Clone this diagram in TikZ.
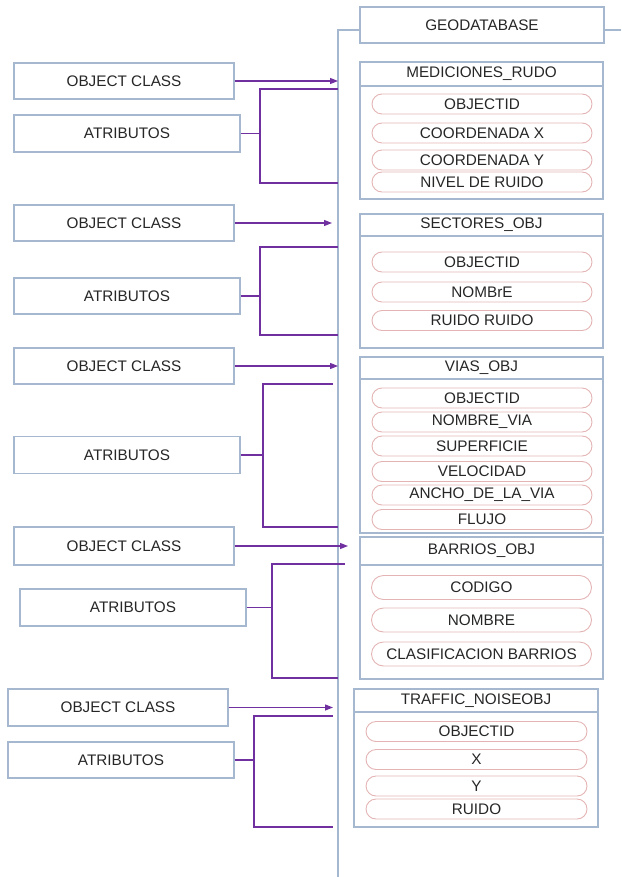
\documentclass[tikz,border=0pt]{standalone}
\usepackage{fontspec}
\setmainfont{Liberation Sans}
\usetikzlibrary{arrows.meta}
\definecolor{edge}{RGB}{166,184,207}
\definecolor{pillc}{RGB}{228,180,180}
\definecolor{link}{RGB}{112,48,160}
\definecolor{ink}{RGB}{38,38,38}

\begin{document}
\begin{tikzpicture}[x=1pt,y=-1pt,
  every node/.style={font=\fontsize{15.3}{17}\selectfont, text=ink, inner sep=0pt},
  lbox/.style={draw=edge, line width=1.1pt, rectangle, minimum width=220pt, minimum height=36pt},
  abox/.style={lbox, minimum width=226pt},
  frame/.style={draw=edge, line width=1.1pt, rectangle, minimum width=243pt},
  hdr/.style={draw=edge, line width=1.1pt, rectangle, minimum width=243pt},
  pill/.style={draw=pillc, line width=0.9pt, rounded corners=10pt,
               minimum width=220pt, minimum height=20pt},
  conn/.style={draw=link, line width=1.3pt},
  arr/.style={conn, -{Triangle[length=8pt,width=6pt]}},
  spine/.style={draw=edge, line width=1.3pt}]

\useasboundingbox (0,0) rectangle (621,877);

% ---- geodatabase and backbone ----
\node[hdr, minimum width=244pt, minimum height=36pt] (geo) at (482,25) {GEODATABASE};
\coordinate (sTop) at (338,30);
\coordinate (sBot) at (338,877);
\coordinate (sRight) at (621,30);
\draw[spine] (geo.west |- sTop) -- (sTop) -- (sBot);
\draw[spine] (geo.east |- sTop) -- (sRight);

% ---- MEDICIONES_RUDO ----
\node[frame, minimum height=137pt] (t1) at (481.5,130.5) {};
\node[hdr, minimum height=24pt] (t1h) at (481.5,74) {MEDICIONES\_RUDO};
\node[pill] (p11) at (482,104) {OBJECTID};
\node[pill] (p12) at (482,133) {COORDENADA X};
\node[pill] (p13) at (482,160) {COORDENADA Y};
\node[pill] (p14) at (482,182) {NIVEL DE RUIDO};

\node[lbox] (oc1) at (124,81) {OBJECT CLASS};
\node[abox, minimum height=37pt] (at1) at (127,133.5) {ATRIBUTOS};
\coordinate (k1) at (338,81);
\coordinate (b1) at (260,133.5);
\coordinate (u1) at (338,89);
\coordinate (d1) at (338,183);
\draw[arr] (oc1.east) -- (k1);
\draw[conn] (at1.east) -- (b1);
\draw[conn] (u1) -| (b1) |- (d1);

% ---- SECTORES_OBJ ----
\node[frame, minimum height=134pt] (t2) at (481.5,281) {};
\node[hdr, minimum height=22pt] (t2h) at (481.5,225) {SECTORES\_OBJ};
\node[pill] (p21) at (482,262) {OBJECTID};
\node[pill] (p22) at (482,292) {NOMBrE};
\node[pill] (p23) at (482,320.5) {RUIDO RUIDO};

\node[lbox] (oc2) at (124,223) {OBJECT CLASS};
\node[abox] (at2) at (127,296) {ATRIBUTOS};
\coordinate (k2) at (332,223);
\coordinate (b2) at (260,296);
\coordinate (u2) at (338,247);
\coordinate (d2) at (338,335);
\draw[arr] (oc2.east) -- (k2);
\draw[conn] (at2.east) -- (b2);
\draw[conn] (u2) -| (b2) |- (d2);

% ---- VIAS_OBJ ----
\node[frame, minimum height=176pt] (t3) at (481.5,445) {};
\node[hdr, minimum height=22pt] (t3h) at (481.5,368) {VIAS\_OBJ};
\node[pill] (p31) at (482,398) {OBJECTID};
\node[pill] (p32) at (482,422) {NOMBRE\_VIA};
\node[pill] (p33) at (482,446) {SUPERFICIE};
\node[pill] (p34) at (482,471.5) {VELOCIDAD};
\node[pill] (p35) at (482,495) {ANCHO\_DE\_LA\_VIA};
\node[pill] (p36) at (482,519.5) {FLUJO};

\node[lbox] (oc3) at (124,366) {OBJECT CLASS};
\node[abox, minimum height=37pt] (at3) at (127,455) {ATRIBUTOS};
\coordinate (k3) at (338,366);
\coordinate (b3) at (263,455);
\coordinate (u3) at (333,384);
\coordinate (d3) at (338,527);
\draw[arr] (oc3.east) -- (k3);
\draw[conn] (at3.east) -- (b3);
\draw[conn] (u3) -| (b3) |- (d3);

% ---- BARRIOS_OBJ ----
\node[frame, minimum height=142pt] (t4) at (481.5,608) {};
\node[hdr, minimum height=28pt] (t4h) at (481.5,551) {BARRIOS\_OBJ};
\node[pill, minimum height=24pt, rounded corners=12pt] (p41) at (481.5,587.5) {CODIGO};
\node[pill, minimum height=24pt, rounded corners=12pt] (p42) at (481.5,620) {NOMBRE};
\node[pill, minimum height=24pt, rounded corners=12pt] (p43) at (481.5,654) {CLASIFICACION BARRIOS};

\node[lbox, minimum height=38pt] (oc4) at (124,546) {OBJECT CLASS};
\node[abox, minimum height=37pt] (at4) at (133,607.5) {ATRIBUTOS};
\coordinate (k4) at (348,546);
\coordinate (b4) at (272,607.5);
\coordinate (u4) at (345,564);
\coordinate (d4) at (338,678);
\draw[arr] (oc4.east) -- (k4);
\draw[conn] (at4.east) -- (b4);
\draw[conn] (u4) -| (b4) |- (d4);

% ---- TRAFFIC_NOISEOBJ ----
\node[frame, minimum width=244pt, minimum height=138pt] (t5) at (476,758) {};
\node[hdr, minimum width=244pt, minimum height=23pt] (t5h) at (476,700.5) {TRAFFIC\_NOISEOBJ};
\node[pill, minimum width=221pt] (p51) at (476.5,731.5) {OBJECTID};
\node[pill, minimum width=221pt] (p52) at (476.5,759.5) {X};
\node[pill, minimum width=221pt] (p53) at (476.5,786) {Y};
\node[pill, minimum width=221pt] (p54) at (476.5,809) {RUIDO};

\node[lbox, minimum height=37pt] (oc5) at (118,707.5) {OBJECT CLASS};
\node[abox] (at5) at (121,760) {ATRIBUTOS};
\coordinate (k5) at (333,707.5);
\coordinate (b5) at (254,760);
\coordinate (u5) at (333,716);
\coordinate (d5) at (333,827);
\draw[arr] (oc5.east) -- (k5);
\draw[conn] (at5.east) -- (b5);
\draw[conn] (u5) -| (b5) |- (d5);

\end{tikzpicture}
\end{document}
